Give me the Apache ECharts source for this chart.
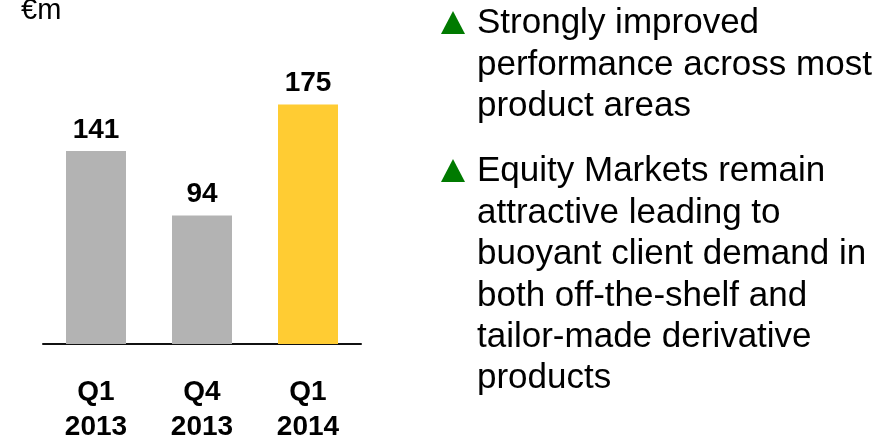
<!DOCTYPE html>
<html>
<head>
<meta charset="utf-8">
<script src="https://cdn.jsdelivr.net/npm/echarts@6/dist/echarts.min.js"></script>
<style>
  html, body { margin: 0; padding: 0; background: #fff; }
  #chart { width: 892px; height: 440px; }
</style>
</head>
<body>
<div id="chart"></div>
<script>
// 数据
const categories = ['Q1\n2013', 'Q4\n2013', 'Q1\n2014']
const values = [141, 94, 175]
const barColors = ['#b3b3b3', '#b3b3b3', '#ffcc33']
const unitLabel = '€m'
const bullets = [
  ['Strongly improved', 'performance across most', 'product areas'],
  ['Equity Markets remain', 'attractive leading to', 'buoyant client demand in', 'both off-the-shelf and', 'tailor-made derivative', 'products']
]

const font = '"Liberation Sans", Arial, sans-serif'
const chart = echarts.init(document.getElementById('chart'))

const graphics = [
  {
    type: 'text', x: 21, y: -4,
    style: { text: unitLabel, fontSize: 29, fontFamily: font, fill: '#000' }
  }
]
// 每段第一行基线
const bulletBase = [34, 182]
bullets.forEach((lines, i) => {
  const base = bulletBase[i]
  graphics.push({
    type: 'polygon',
    shape: { points: [[441, base], [465, base], [453, base - 23]] },
    style: { fill: '#007a00' }
  })
  graphics.push({
    type: 'text', x: 477, y: base - 31,
    style: {
      text: lines.join('\n'), fontSize: 35, fontFamily: font, fill: '#000',
      lineHeight: 41.4, verticalAlign: 'top'
    }
  })
})

const option = {
  animation: false,
  backgroundColor: '#fff',
  grid: { left: 43, right: 531, top: 70.4, bottom: 96, containLabel: false, outerBoundsMode: 'none' },
  xAxis: {
    type: 'category',
    data: categories,
    axisLine: { lineStyle: { color: '#111', width: 2 } },
    axisTick: { show: false },
    axisLabel: {
      color: '#000', fontFamily: font, fontWeight: 'bold', fontSize: 28,
      lineHeight: 35, margin: 31, interval: 0
    }
  },
  yAxis: {
    type: 'value', min: 0, max: 200,
    show: false, splitLine: { show: false }
  },
  series: [
    {
      type: 'bar',
      barWidth: 60,
      data: values.map((v, i) => ({ value: v, itemStyle: { color: barColors[i] } })),
      label: {
        show: true, position: 'top', distance: 7,
        color: '#000', fontFamily: font, fontWeight: 'bold', fontSize: 28
      }
    }
  ],
  graphic: graphics
}
chart.setOption(option)
</script>
</body>
</html>
